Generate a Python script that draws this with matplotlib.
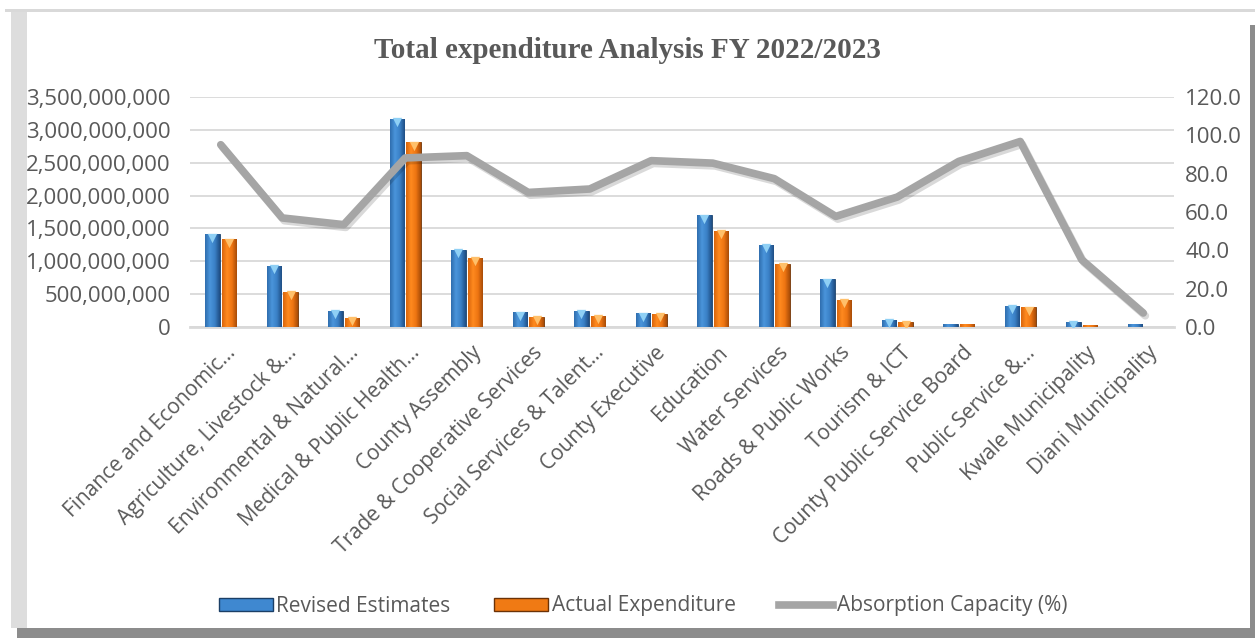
import numpy as np
import matplotlib
matplotlib.use('Agg')
import matplotlib.pyplot as plt
import matplotlib.patheffects as pe
from matplotlib.patches import Rectangle, Patch
from matplotlib.lines import Line2D
from matplotlib.colors import LinearSegmentedColormap
from matplotlib.ticker import FuncFormatter, MultipleLocator
import matplotlib.transforms as mtransforms

departments = ['Finance and Economic…', 'Agriculture, Livestock &…', 'Environmental & Natural…',
               'Medical & Public Health…', 'County Assembly', 'Trade & Cooperative Services',
               'Social Services & Talent…', 'County Executive', 'Education', 'Water Services',
               'Roads & Public Works', 'Tourism & ICT', 'County Public Service Board',
               'Public Service &…', 'Kwale Municipality', 'Diani Municipality']

# KES
revised = [1415e6, 933e6, 248e6, 3170e6, 1176e6, 228e6, 248e6, 213e6,
           1704e6, 1248e6, 730e6, 111e6, 46e6, 320e6, 80e6, 46e6]
actual = [1339e6, 537e6, 141e6, 2810e6, 1050e6, 157e6, 172e6, 198e6,
          1466e6, 963e6, 415e6, 80e6, 44e6, 304e6, 28e6, 3e6]
absorption = [95.1, 56.9, 53.4, 88.2, 89.4, 70.2, 72.0, 86.8,
              85.5, 77.4, 57.7, 67.8, 86.4, 96.8, 35.1, 7.3]

TXT = '#595959'
plt.rcParams['font.family'] = ['Open Sans', 'DejaVu Sans']

fig = plt.figure(figsize=(12.55, 6.38), dpi=100)

# outer frame / shadow
W, H = 1255., 638.
def px(x0, y0, x1, y1, c):
    fig.patches.append(Rectangle((x0/W, 1-y1/H), (x1-x0)/W, (y1-y0)/H, transform=fig.transFigure,
                                 facecolor=c, edgecolor='none', zorder=0))
px(5, 9, 1255, 12, '#D9D9D9')
px(11, 12, 27, 628, '#DDDDDD')
px(17, 628, 1255, 638, '#8C8C8C')
px(1250, 25, 1255, 638, '#8C8C8C')

ax = fig.add_axes([190/W, 1-327/H, (1174-190)/W, (327-97)/H])
ax2 = ax.twinx()
ax.set_zorder(1)
ax2.set_zorder(2)
ax.patch.set_visible(False)
ax2.patch.set_visible(False)

x = np.arange(len(departments))
bw = 0.24
off = 0.135

blue_cm = LinearSegmentedColormap.from_list('b', ['#2F6DAE', '#4A95DB', '#3A80C6', '#1F4E84'])
orng_cm = LinearSegmentedColormap.from_list('o', ['#D9650C', '#FF8A1F', '#EE7512', '#A84C08'])
grad = np.linspace(0, 1, 64).reshape(1, -1)

def draw_bars(vals, xs, cm, edge, top):
    bars = ax.bar(xs, vals, width=bw, color=cm(0.5), edgecolor=edge, linewidth=0.6, zorder=3)
    for b in bars:
        im = ax.imshow(grad, cmap=cm, aspect='auto', zorder=3.5,
                       extent=[b.get_x(), b.get_x()+b.get_width(), 0, b.get_height()])
        im.set_clip_path(b)
    tr = mtransforms.offset_copy(ax.transData, fig=fig, y=-3.5, units='dots')
    big = [v for v in vals if v > 60e6]
    bx = [xx for xx, v in zip(xs, vals) if v > 60e6]
    ax.scatter(bx, big, marker='v', s=45, color=top, transform=tr, zorder=4, linewidths=0)

draw_bars(revised, x - off, blue_cm, '#1B3F66', '#8FD0F5')
draw_bars(actual, x + off, orng_cm, '#6B3206', '#FFC06A')

ax.set_xlim(-0.5, len(departments) - 0.5)
ax.set_ylim(0, 3.5e9)
ax.yaxis.set_major_locator(MultipleLocator(5e8))
ax.yaxis.set_major_formatter(FuncFormatter(lambda v, p: f'{v:,.0f}'))
ax.grid(axis='y', color='#D9D9D9', linewidth=1.3, zorder=0)
ax.set_axisbelow(True)
for s in ['top', 'right', 'left']:
    ax.spines[s].set_visible(False)
ax.spines['bottom'].set_color('#D9D9D9')
ax.spines['bottom'].set_linewidth(2)
ax.tick_params(axis='y', length=0, pad=14, labelsize=16, labelcolor=TXT)
ax.tick_params(axis='x', length=0, pad=11, labelsize=15, labelcolor=TXT)
ax.set_xticks(x)
ax.set_xticklabels(departments, rotation=45, ha='right', rotation_mode='anchor')
shift = mtransforms.ScaledTranslation(4/100, 0, fig.dpi_scale_trans)
for lab in ax.get_xticklabels():
    lab.set_transform(lab.get_transform() + shift)

ax2.plot(x, absorption, color='#A5A5A5', linewidth=5.5, solid_capstyle='round', zorder=5,
         path_effects=[pe.SimpleLineShadow(offset=(1.5, -2), alpha=0.15), pe.Normal()])
ax2.set_ylim(0, 120)
ax2.yaxis.set_major_locator(MultipleLocator(20))
ax2.yaxis.set_major_formatter(FuncFormatter(lambda v, p: f'{v:.1f}'))
for s in ax2.spines.values():
    s.set_visible(False)
ax2.tick_params(axis='y', length=0, pad=8, labelsize=16, labelcolor=TXT)

fig.text(0.5, 1-51/H, 'Total expenditure Analysis FY 2022/2023', ha='center', va='center',
         fontsize=21, fontweight='bold', color=TXT, family='Liberation Serif')

handles = [Patch(facecolor='#3F88D0', edgecolor='#1B3F66', label='Revised Estimates'),
           Patch(facecolor='#F07A14', edgecolor='#6B3206', label='Actual Expenditure'),
           Line2D([0], [0], color='#A5A5A5', linewidth=5.5, label='Absorption Capacity (%)')]
leg = fig.legend(handles=handles, loc='center', bbox_to_anchor=(643/W, 1-606/H), ncol=3,
                 frameon=False, fontsize=15, handlelength=2.6, handleheight=0.6,
                 handletextpad=0.15, columnspacing=2.1)
for t in leg.get_texts():
    t.set_color(TXT)

fig.savefig('out.png', dpi=100)
